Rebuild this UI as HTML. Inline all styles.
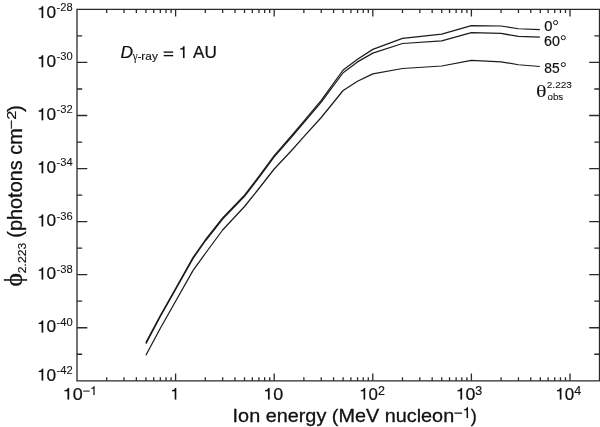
<!DOCTYPE html>
<html><head><meta charset="utf-8"><title>chart</title>
<style>html,body{margin:0;padding:0;background:#fff;}svg{display:block;}text{font-family:"Liberation Sans",sans-serif;fill:#111;}.g{font-family:"Liberation Serif",serif;}</style>
</head><body>
<svg width="600" height="427" viewBox="0 0 600 427">
<rect x="0" y="0" width="600" height="427" fill="#ffffff"/>
<g fill="none" stroke="#2a2a2a" stroke-width="1.3" stroke-linecap="butt">
<path d="M77.0 9.4 H599.5 V380.8 H77.0 Z"/>
<path d="M106.68 380.8 v-3.5 M106.68 9.4 v3.5 M124.04 380.8 v-3.5 M124.04 9.4 v3.5 M136.36 380.8 v-3.5 M136.36 9.4 v3.5 M145.92 380.8 v-3.5 M145.92 9.4 v3.5 M153.73 380.8 v-3.5 M153.73 9.4 v3.5 M160.33 380.8 v-3.5 M160.33 9.4 v3.5 M166.04 380.8 v-3.5 M166.04 9.4 v3.5 M171.09 380.8 v-3.5 M171.09 9.4 v3.5 M175.60 380.8 v-7.2 M175.60 9.4 v7.2 M205.28 380.8 v-3.5 M205.28 9.4 v3.5 M222.64 380.8 v-3.5 M222.64 9.4 v3.5 M234.96 380.8 v-3.5 M234.96 9.4 v3.5 M244.52 380.8 v-3.5 M244.52 9.4 v3.5 M252.33 380.8 v-3.5 M252.33 9.4 v3.5 M258.93 380.8 v-3.5 M258.93 9.4 v3.5 M264.64 380.8 v-3.5 M264.64 9.4 v3.5 M269.69 380.8 v-3.5 M269.69 9.4 v3.5 M274.20 380.8 v-7.2 M274.20 9.4 v7.2 M303.88 380.8 v-3.5 M303.88 9.4 v3.5 M321.24 380.8 v-3.5 M321.24 9.4 v3.5 M333.56 380.8 v-3.5 M333.56 9.4 v3.5 M343.12 380.8 v-3.5 M343.12 9.4 v3.5 M350.93 380.8 v-3.5 M350.93 9.4 v3.5 M357.53 380.8 v-3.5 M357.53 9.4 v3.5 M363.24 380.8 v-3.5 M363.24 9.4 v3.5 M368.29 380.8 v-3.5 M368.29 9.4 v3.5 M372.80 380.8 v-7.2 M372.80 9.4 v7.2 M402.48 380.8 v-3.5 M402.48 9.4 v3.5 M419.84 380.8 v-3.5 M419.84 9.4 v3.5 M432.16 380.8 v-3.5 M432.16 9.4 v3.5 M441.72 380.8 v-3.5 M441.72 9.4 v3.5 M449.53 380.8 v-3.5 M449.53 9.4 v3.5 M456.13 380.8 v-3.5 M456.13 9.4 v3.5 M461.84 380.8 v-3.5 M461.84 9.4 v3.5 M466.89 380.8 v-3.5 M466.89 9.4 v3.5 M471.40 380.8 v-7.2 M471.40 9.4 v7.2 M501.08 380.8 v-3.5 M501.08 9.4 v3.5 M518.44 380.8 v-3.5 M518.44 9.4 v3.5 M530.76 380.8 v-3.5 M530.76 9.4 v3.5 M540.32 380.8 v-3.5 M540.32 9.4 v3.5 M548.13 380.8 v-3.5 M548.13 9.4 v3.5 M554.73 380.8 v-3.5 M554.73 9.4 v3.5 M560.44 380.8 v-3.5 M560.44 9.4 v3.5 M565.49 380.8 v-3.5 M565.49 9.4 v3.5 M570.00 380.8 v-7.2 M570.00 9.4 v7.2"/>
<path d="M77.0 35.93 h5.2 M599.5 35.93 h-5.2 M77.0 62.46 h10.3 M599.5 62.46 h-10.3 M77.0 88.99 h5.2 M599.5 88.99 h-5.2 M77.0 115.51 h10.3 M599.5 115.51 h-10.3 M77.0 142.04 h5.2 M599.5 142.04 h-5.2 M77.0 168.57 h10.3 M599.5 168.57 h-10.3 M77.0 195.10 h5.2 M599.5 195.10 h-5.2 M77.0 221.63 h10.3 M599.5 221.63 h-10.3 M77.0 248.16 h5.2 M599.5 248.16 h-5.2 M77.0 274.69 h10.3 M599.5 274.69 h-10.3 M77.0 301.21 h5.2 M599.5 301.21 h-5.2 M77.0 327.74 h10.3 M599.5 327.74 h-10.3 M77.0 354.27 h5.2 M599.5 354.27 h-5.2"/>
</g>
<g fill="none" stroke="#1c1c1c" stroke-width="1.25" stroke-linejoin="round" stroke-linecap="butt">
<polyline points="145.92,342.60 160.33,315.50 175.60,288.50 192.96,257.60 205.28,240.00 222.64,218.00 244.52,195.25 258.93,176.40 274.20,155.60 291.56,135.60 303.88,121.15 321.24,100.45 343.12,70.00 357.53,59.20 372.80,49.40 402.48,38.40 441.72,34.10 471.40,25.60 501.08,26.00 518.44,28.75 539.90,29.60"/>
<polyline points="145.92,343.60 160.33,316.50 175.60,289.50 192.96,258.60 205.28,241.00 222.64,219.00 244.52,196.35 258.93,177.60 274.20,156.90 291.56,137.00 303.88,122.65 321.24,102.15 343.12,72.75 357.53,61.90 372.80,53.10 402.48,43.50 441.72,40.90 471.40,32.60 501.08,33.45 518.44,36.45 539.90,37.20"/>
<polyline points="145.92,355.25 160.33,328.30 175.60,301.30 192.96,270.60 205.28,253.50 222.64,230.00 244.52,206.50 258.93,188.50 274.20,169.00 291.56,150.50 303.88,136.70 321.24,117.50 343.12,90.50 357.53,81.25 372.80,73.90 402.48,68.50 441.72,66.00 471.40,60.40 501.08,61.80 518.44,64.75 539.90,66.50"/>
</g>
<g fill="none" stroke="#111" stroke-width="1.0"><circle cx="555.6" cy="22.6" r="2.05"/><circle cx="563.3" cy="37.7" r="2.05"/><circle cx="563.3" cy="64.6" r="2.05"/></g>
<g opacity="0.999">
<g transform="matrix(1.0164 0 0 1 37.00 18.10)">
<path transform="translate(0.00 0) scale(0.01700 -0.01700)" d="M359 0H268V505H101V568C190 572 260 612 290 703H359Z" fill="#111" stroke="#111" stroke-width="0.132" vector-effect="non-scaling-stroke"/>
<text x="9.45" y="0" font-size="17.0" stroke="#111" stroke-width="0.22" xml:space="preserve">0</text>
</g>
<text transform="matrix(1.1200 0 0 1 56.45 11.25)" font-size="10.0" stroke="#111" stroke-width="0.08">-28</text>
<g transform="matrix(1.0164 0 0 1 37.00 67.21)">
<path transform="translate(0.00 0) scale(0.01700 -0.01700)" d="M359 0H268V505H101V568C190 572 260 612 290 703H359Z" fill="#111" stroke="#111" stroke-width="0.132" vector-effect="non-scaling-stroke"/>
<text x="9.45" y="0" font-size="17.0" stroke="#111" stroke-width="0.22" xml:space="preserve">0</text>
</g>
<text transform="matrix(1.1200 0 0 1 56.45 60.36)" font-size="10.0" stroke="#111" stroke-width="0.08">-30</text>
<g transform="matrix(1.0164 0 0 1 37.00 120.26)">
<path transform="translate(0.00 0) scale(0.01700 -0.01700)" d="M359 0H268V505H101V568C190 572 260 612 290 703H359Z" fill="#111" stroke="#111" stroke-width="0.132" vector-effect="non-scaling-stroke"/>
<text x="9.45" y="0" font-size="17.0" stroke="#111" stroke-width="0.22" xml:space="preserve">0</text>
</g>
<text transform="matrix(1.1200 0 0 1 56.45 113.41)" font-size="10.0" stroke="#111" stroke-width="0.08">-32</text>
<g transform="matrix(1.0164 0 0 1 37.00 173.32)">
<path transform="translate(0.00 0) scale(0.01700 -0.01700)" d="M359 0H268V505H101V568C190 572 260 612 290 703H359Z" fill="#111" stroke="#111" stroke-width="0.132" vector-effect="non-scaling-stroke"/>
<text x="9.45" y="0" font-size="17.0" stroke="#111" stroke-width="0.22" xml:space="preserve">0</text>
</g>
<text transform="matrix(1.1200 0 0 1 56.45 166.47)" font-size="10.0" stroke="#111" stroke-width="0.08">-34</text>
<g transform="matrix(1.0164 0 0 1 37.00 226.38)">
<path transform="translate(0.00 0) scale(0.01700 -0.01700)" d="M359 0H268V505H101V568C190 572 260 612 290 703H359Z" fill="#111" stroke="#111" stroke-width="0.132" vector-effect="non-scaling-stroke"/>
<text x="9.45" y="0" font-size="17.0" stroke="#111" stroke-width="0.22" xml:space="preserve">0</text>
</g>
<text transform="matrix(1.1200 0 0 1 56.45 219.53)" font-size="10.0" stroke="#111" stroke-width="0.08">-36</text>
<g transform="matrix(1.0164 0 0 1 37.00 279.44)">
<path transform="translate(0.00 0) scale(0.01700 -0.01700)" d="M359 0H268V505H101V568C190 572 260 612 290 703H359Z" fill="#111" stroke="#111" stroke-width="0.132" vector-effect="non-scaling-stroke"/>
<text x="9.45" y="0" font-size="17.0" stroke="#111" stroke-width="0.22" xml:space="preserve">0</text>
</g>
<text transform="matrix(1.1200 0 0 1 56.45 272.59)" font-size="10.0" stroke="#111" stroke-width="0.08">-38</text>
<g transform="matrix(1.0164 0 0 1 37.00 332.49)">
<path transform="translate(0.00 0) scale(0.01700 -0.01700)" d="M359 0H268V505H101V568C190 572 260 612 290 703H359Z" fill="#111" stroke="#111" stroke-width="0.132" vector-effect="non-scaling-stroke"/>
<text x="9.45" y="0" font-size="17.0" stroke="#111" stroke-width="0.22" xml:space="preserve">0</text>
</g>
<text transform="matrix(1.1200 0 0 1 56.45 325.64)" font-size="10.0" stroke="#111" stroke-width="0.08">-40</text>
<g transform="matrix(1.0164 0 0 1 37.00 380.60)">
<path transform="translate(0.00 0) scale(0.01700 -0.01700)" d="M359 0H268V505H101V568C190 572 260 612 290 703H359Z" fill="#111" stroke="#111" stroke-width="0.132" vector-effect="non-scaling-stroke"/>
<text x="9.45" y="0" font-size="17.0" stroke="#111" stroke-width="0.22" xml:space="preserve">0</text>
</g>
<text transform="matrix(1.1200 0 0 1 56.45 373.75)" font-size="10.0" stroke="#111" stroke-width="0.08">-42</text>
<g transform="matrix(1.0876 0 0 1 62.69 399.60)">
<path transform="translate(0.00 0) scale(0.01650 -0.01650)" d="M359 0H268V505H101V568C190 572 260 612 290 703H359Z" fill="#111" stroke="#111" stroke-width="0.132" vector-effect="non-scaling-stroke"/>
<text x="9.18" y="0" font-size="16.5" stroke="#111" stroke-width="0.22" xml:space="preserve">0</text>
</g>
<g transform="matrix(1.0000 0 0 1 82.81 395.10)">
<path transform="translate(0.00 0) scale(0.01250 -0.01250)" d="M39 284H545V357H39Z" fill="#111" stroke="#111" stroke-width="0.09" vector-effect="non-scaling-stroke"/>
<path transform="translate(7.30 0) scale(0.01250 -0.01250)" d="M359 0H268V505H101V568C190 572 260 612 290 703H359Z" fill="#111" stroke="#111" stroke-width="0.09" vector-effect="non-scaling-stroke"/>
</g>
<g transform="matrix(1.0000 0 0 1 170.33 399.60)">
<path transform="translate(0.00 0) scale(0.01650 -0.01650)" d="M359 0H268V505H101V568C190 572 260 612 290 703H359Z" fill="#111" stroke="#111" stroke-width="0.132" vector-effect="non-scaling-stroke"/>
</g>
<g transform="matrix(1.0876 0 0 1 263.19 399.60)">
<path transform="translate(0.00 0) scale(0.01650 -0.01650)" d="M359 0H268V505H101V568C190 572 260 612 290 703H359Z" fill="#111" stroke="#111" stroke-width="0.132" vector-effect="non-scaling-stroke"/>
<text x="9.18" y="0" font-size="16.5" stroke="#111" stroke-width="0.22" xml:space="preserve">0</text>
</g>
<g transform="matrix(1.0193 0 0 1 359.10 399.60)">
<path transform="translate(0.00 0) scale(0.01650 -0.01650)" d="M359 0H268V505H101V568C190 572 260 612 290 703H359Z" fill="#111" stroke="#111" stroke-width="0.132" vector-effect="non-scaling-stroke"/>
<text x="9.18" y="0" font-size="16.5" stroke="#111" stroke-width="0.22" xml:space="preserve">0</text>
</g>
<text transform="matrix(1.0000 0 0 1 377.88 395.10)" font-size="12.5" stroke="#111" stroke-width="0.15">2</text>
<g transform="matrix(1.0752 0 0 1 455.71 399.60)">
<path transform="translate(0.00 0) scale(0.01650 -0.01650)" d="M359 0H268V505H101V568C190 572 260 612 290 703H359Z" fill="#111" stroke="#111" stroke-width="0.132" vector-effect="non-scaling-stroke"/>
<text x="9.18" y="0" font-size="16.5" stroke="#111" stroke-width="0.22" xml:space="preserve">0</text>
</g>
<text transform="matrix(1.0000 0 0 1 475.36 395.10)" font-size="12.5" stroke="#111" stroke-width="0.15">3</text>
<g transform="matrix(1.0317 0 0 1 555.28 399.60)">
<path transform="translate(0.00 0) scale(0.01650 -0.01650)" d="M359 0H268V505H101V568C190 572 260 612 290 703H359Z" fill="#111" stroke="#111" stroke-width="0.132" vector-effect="non-scaling-stroke"/>
<text x="9.18" y="0" font-size="16.5" stroke="#111" stroke-width="0.22" xml:space="preserve">0</text>
</g>
<text transform="matrix(1.0000 0 0 1 574.25 395.10)" font-size="12.5" stroke="#111" stroke-width="0.15">4</text>
<text transform="matrix(1.0611 0 0 1 232.61 421.90)" font-size="18.7" stroke="#111" stroke-width="0.3">Ion energy (MeV nucleon</text>
<g transform="matrix(0.9700 0 0 1 453.81 418.10)">
<path transform="translate(0.00 0) scale(0.01550 -0.01550)" d="M39 284H545V357H39Z" fill="#111" stroke="#111" stroke-width="0.132" vector-effect="non-scaling-stroke"/>
<path transform="translate(9.05 0) scale(0.01550 -0.01550)" d="M359 0H268V505H101V568C190 572 260 612 290 703H359Z" fill="#111" stroke="#111" stroke-width="0.132" vector-effect="non-scaling-stroke"/>
</g>
<text transform="matrix(0.9705 0 0 1 470.81 421.90)" font-size="18.7" stroke="#111" stroke-width="0.3">)</text>
<text transform="matrix(1.0372 0 0 1 120.48 58.10)" font-size="16.8" stroke="#111" stroke-width="0.22" font-style="italic">D</text>
<text transform="matrix(0.8847 0 0 1 132.66 60.20)" font-size="12.5" stroke="#111" stroke-width="0.05" class="g">γ</text>
<text transform="matrix(1.0809 0 0 1 137.42 59.80)" font-size="11.0" stroke="#111" stroke-width="0.15">-ray</text>
<g transform="matrix(1.0999 0 0 1 163.03 58.10)">
<path transform="translate(0.00 0) scale(0.01680 -0.01680)" d="M39 115H545V188H39ZM39 317H545V390H39Z" fill="#111" stroke="#111" stroke-width="0.132" vector-effect="non-scaling-stroke"/>
</g>
<g transform="matrix(1.0000 0 0 1 178.50 58.10)">
<path transform="translate(0.00 0) scale(0.01680 -0.01680)" d="M359 0H268V505H101V568C190 572 260 612 290 703H359Z" fill="#111" stroke="#111" stroke-width="0.132" vector-effect="non-scaling-stroke"/>
</g>
<text transform="matrix(1.0208 0 0 1 193.10 58.10)" font-size="16.8" stroke="#111" stroke-width="0.22">AU</text>
<text transform="matrix(0.9828 0 0 1 544.23 30.50)" font-size="15" stroke="#111" stroke-width="0.22">0</text>
<text transform="matrix(0.9518 0 0 1 544.04 46.15)" font-size="15" stroke="#111" stroke-width="0.22">60</text>
<text transform="matrix(0.9213 0 0 1 544.20 72.65)" font-size="15" stroke="#111" stroke-width="0.22">85</text>
<text transform="matrix(1.2731 0 0 1 536.11 97.10)" font-size="17.3" stroke="#111" stroke-width="0.05" class="g">θ</text>
<text transform="matrix(1.1277 0 0 1 546.80 88.25)" font-size="8.9" stroke="#111" stroke-width="0.08">2.223</text>
<text transform="matrix(1.1088 0 0 1 547.51 100.35)" font-size="8.8" stroke="#111" stroke-width="0.08">obs</text>
<text transform="translate(22.10 286.56) rotate(-90) scale(1.0358 1)" font-size="24.5" stroke="#111" stroke-width="0.3" class="g">ϕ</text>
<text transform="translate(25.60 273.31) rotate(-90) scale(1.0457 1)" font-size="11.7" stroke="#111" stroke-width="0.15">2.223</text>
<text transform="translate(21.60 237.69) rotate(-90) scale(1.0200 1)" font-size="19.5" stroke="#111" stroke-width="0.3">(photons cm</text>
<g transform="translate(15.70 129.44) rotate(-90) scale(1.2147 1)">
<path transform="translate(0.00 0) scale(0.01350 -0.01350)" d="M39 284H545V357H39Z" fill="#111" stroke="#111" stroke-width="0.09" vector-effect="non-scaling-stroke"/>
<text x="7.88" y="0" font-size="13.5" stroke="#111" stroke-width="0.15" xml:space="preserve">2</text>
</g>
<text transform="translate(21.60 112.00) rotate(-90) scale(1.0636 1)" font-size="19.5" stroke="#111" stroke-width="0.3">)</text>
</g>
</svg>
</body></html>
